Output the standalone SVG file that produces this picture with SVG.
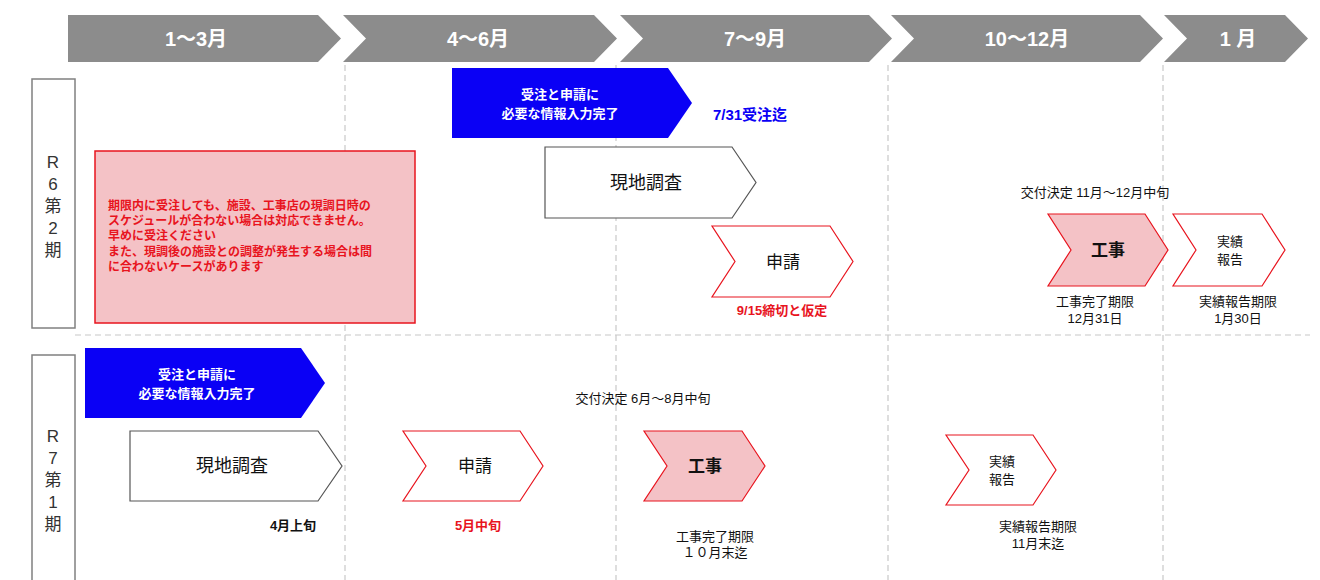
<svg xmlns="http://www.w3.org/2000/svg" width="1320" height="580" viewBox="0 0 1320 580">
<style>
text{font-family:"Liberation Sans","Noto Sans CJK JP",sans-serif;text-anchor:middle}
.hd{fill:#8c8c8c}
.ht{fill:#fff;font-size:20px;font-weight:bold}
.dash{stroke:#c8c8c8;stroke-width:1.2;stroke-dasharray:6 4;fill:none}
.lab{fill:#fff;stroke:#808080;stroke-width:1.5}
.lt{font-size:17px;fill:#333}
.blue{fill:#0a00f5}
.bt{fill:#fff;font-size:13px;font-weight:bold}
.wg{fill:#fff;stroke:#555;stroke-width:1.2}
.wr{fill:#fff;stroke:#e8141e;stroke-width:1.2}
.pr{fill:#f4c2c6;stroke:#e8141e;stroke-width:1.2}
.t{font-size:13px;fill:#111}
.rb{font-size:13px;fill:#e8141e;font-weight:bold}
</style>
<g id="header">
<polygon class="hd" points="68,15 318,15 341,38.5 318,62 68,62"/>
<polygon class="hd" points="343,15 594,15 617,38.5 594,62 343,62 366,38.5"/>
<polygon class="hd" points="620,15 869,15 892,38.5 869,62 620,62 643,38.5"/>
<polygon class="hd" points="891,15 1140,15 1163,38.5 1140,62 891,62 914,38.5"/>
<polygon class="hd" points="1164,15 1285,15 1308,38.5 1285,62 1164,62 1187,38.5"/>
<text class="ht" x="196" y="46">1～3月</text>
<text class="ht" x="478" y="46">4～6月</text>
<text class="ht" x="755" y="46">7～9月</text>
<text class="ht" x="1027" y="46">10～12月</text>
<text class="ht" x="1238" y="46">1 月</text>
</g>
<g id="grid">
<line class="dash" x1="345" y1="65" x2="345" y2="580"/>
<line class="dash" x1="616" y1="65" x2="616" y2="580"/>
<line class="dash" x1="888" y1="65" x2="888" y2="580"/>
<line class="dash" x1="1163" y1="65" x2="1163" y2="580"/>
<line class="dash" x1="75" y1="335" x2="1310" y2="335"/>
</g>
<g id="row-r6">
<rect class="lab" x="32" y="79" width="43" height="249"/>
<text class="lt" x="53" y="168">R</text><text class="lt" x="53" y="190">6</text><text class="lt" x="53" y="212">第</text><text class="lt" x="53" y="234">2</text><text class="lt" x="53" y="256">期</text>
</g>
<g id="row-r7">
<rect class="lab" x="32" y="355" width="43" height="230"/>
<text class="lt" x="53" y="442">R</text><text class="lt" x="53" y="464">7</text><text class="lt" x="53" y="486">第</text><text class="lt" x="53" y="508">1</text><text class="lt" x="53" y="530">期</text>
</g>
<g id="r6-order">
<polygon class="blue" points="452,68 668,68 692,103 668,138 452,138"/>
<text class="bt" x="560" y="99">受注と申請に</text><text class="bt" x="560" y="118">必要な情報入力完了</text>
<text x="750" y="120" style="font-size:15px;font-weight:bold;fill:#0a00f5">7/31受注迄</text>
</g>
<g id="r6-note">
<rect x="95" y="151" width="320" height="172" fill="#f4c2c6" stroke="#e8141e" stroke-width="1.5"/>
<g style="text-anchor:start">
<text x="108" y="210" style="text-anchor:start;font-size:12px;fill:#e8141e;font-weight:bold">期限内に受注しても、施設、工事店の現調日時の</text>
<text x="108" y="225" style="text-anchor:start;font-size:12px;fill:#e8141e;font-weight:bold">スケジュールが合わない場合は対応できません。</text>
<text x="108" y="240" style="text-anchor:start;font-size:12px;fill:#e8141e;font-weight:bold">早めに受注ください</text>
<text x="108" y="256" style="text-anchor:start;font-size:12px;fill:#e8141e;font-weight:bold">また、現調後の施設との調整が発生する場合は間</text>
<text x="108" y="271" style="text-anchor:start;font-size:12px;fill:#e8141e;font-weight:bold">に合わないケースがあります</text>
</g>
</g>
<g id="r6-survey">
<polygon class="wg" points="545,147 732,147 756,182.5 732,218 545,218"/>
<text x="646" y="189" style="font-size:18px;fill:#111">現地調査</text>
</g>
<g id="r6-apply">
<polygon class="wr" points="712,226 830,226 853,261.5 830,297 712,297 735,261.5"/>
<text x="783" y="268" style="font-size:17px;fill:#111">申請</text>
<text class="rb" x="782" y="315">9/15締切と仮定</text>
</g>
<text class="t" x="1095" y="197">交付決定 11月～12月中旬</text>
<g id="r6-work">
<polygon class="pr" points="1048,214 1145,214 1168,250 1145,286 1048,286 1071,250"/>
<text x="1108" y="256" style="font-size:17px;font-weight:bold;fill:#111">工事</text>
<text class="t" x="1095" y="306">工事完了期限</text><text class="t" x="1095" y="323">12月31日</text>
</g>
<g id="r6-report">
<polygon class="wr" points="1173,214 1262,214 1285,250 1262,286 1173,286 1196,250"/>
<text class="t" x="1230" y="246">実績</text><text class="t" x="1230" y="264">報告</text>
<text class="t" x="1238" y="306">実績報告期限</text><text class="t" x="1238" y="323">1月30日</text>
</g>
<g id="r7-order">
<polygon class="blue" points="85,348 301,348 325,383 301,418 85,418"/>
<text class="bt" x="197" y="379">受注と申請に</text><text class="bt" x="197" y="398">必要な情報入力完了</text>
</g>
<text class="t" x="643" y="403">交付決定 6月～8月中旬</text>
<g id="r7-survey">
<polygon class="wg" points="130,431 318,431 342,466 318,501 130,501"/>
<text x="232" y="472" style="font-size:18px;fill:#111">現地調査</text>
<text x="293" y="530" style="font-size:13px;font-weight:bold;fill:#111">4月上旬</text>
</g>
<g id="r7-apply">
<polygon class="wr" points="403,431 520,431 543,466 520,501 403,501 426,466"/>
<text x="475" y="472" style="font-size:17px;fill:#111">申請</text>
<text class="rb" x="478" y="530">5月中旬</text>
</g>
<g id="r7-work">
<polygon class="pr" points="644,431 742,431 765,466 742,501 644,501 667,466"/>
<text x="705" y="472" style="font-size:17px;font-weight:bold;fill:#111">工事</text>
<text class="t" x="715" y="541">工事完了期限</text><text class="t" x="715" y="557">１０月末迄</text>
</g>
<g id="r7-report">
<polygon class="wr" points="946,435 1033,435 1056,470 1033,505 946,505 969,470"/>
<text class="t" x="1002" y="466">実績</text><text class="t" x="1002" y="484">報告</text>
<text class="t" x="1038" y="531">実績報告期限</text><text class="t" x="1038" y="548">11月末迄</text>
</g>
</svg>
